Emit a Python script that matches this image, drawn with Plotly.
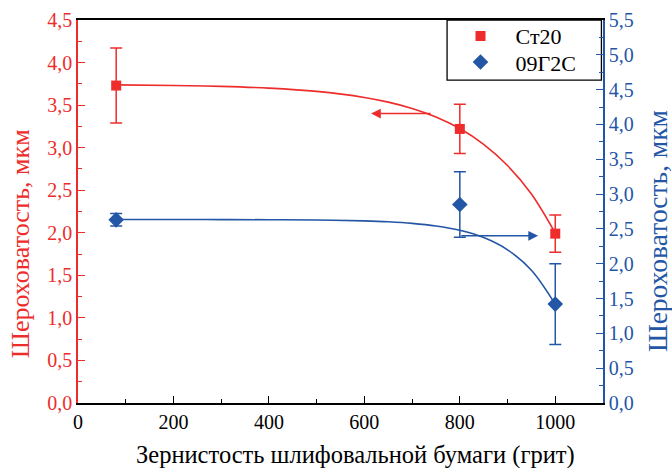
import plotly.graph_objects as go

# ---- data ----
grit = [80, 800, 1000]
st20 = [3.73, 3.22, 1.99]
st20_err = [0.44, 0.29, 0.22]
g09 = [2.63, 2.85, 1.42]
g09_err = [0.09, 0.47, 0.58]

# fitted curves
fit_x = [80, 200, 300, 400, 500, 600, 650, 700, 750, 800, 850, 900, 950, 1000]
fit_st20 = [3.738, 3.731, 3.72, 3.699, 3.661, 3.59, 3.535, 3.461, 3.361, 3.225, 3.04, 2.79, 2.455, 1.995]
fit_g09 = [2.635, 2.635, 2.634, 2.632, 2.628, 2.615, 2.602, 2.58, 2.542, 2.48, 2.376, 2.20, 1.907, 1.417]

x_title = "Зернистость шлифовальной бумаги (грит)"
y_title = "Шероховатость, мкм"

RED = "#ee2c2c"
BLUE = "#2456a6"
FONT = "Liberation Serif"

fig = go.Figure()
fig.add_trace(go.Scatter(x=fit_x, y=fit_st20, mode="lines", line=dict(color=RED, width=1.6, shape="spline"),
                         showlegend=False, hoverinfo="skip"))
fig.add_trace(go.Scatter(x=fit_x, y=fit_g09, mode="lines", line=dict(color=BLUE, width=1.6, shape="spline"),
                         showlegend=False, hoverinfo="skip", yaxis="y2"))
fig.add_trace(go.Scatter(x=grit, y=st20, mode="markers", name="Ст20", legend="legend",
                         marker=dict(symbol="square", size=10, color=RED),
                         error_y=dict(type="data", array=st20_err, color=RED, thickness=1.5, width=6)))
fig.add_trace(go.Scatter(x=grit, y=g09, mode="markers", name="09Г2С", yaxis="y2", legend="legend2",
                         marker=dict(symbol="diamond", size=12, color=BLUE),
                         error_y=dict(type="data", array=g09_err, color=BLUE, thickness=1.5, width=6)))

fig.add_annotation(x=614, y=3.40, ax=742, ay=3.40, xref="x", yref="y", axref="x", ayref="y",
                   showarrow=True, arrowhead=2, arrowsize=1.3, arrowwidth=1.5, arrowcolor=RED, text="")
fig.add_annotation(x=964, y=2.40, ax=800, ay=2.40, xref="x", yref="y2", axref="x", ayref="y2",
                   showarrow=True, arrowhead=2, arrowsize=1.3, arrowwidth=1.5, arrowcolor=BLUE, text="")

# axis titles
fig.add_annotation(text=y_title, xref="paper", yref="paper", x=-0.110, y=0.415, textangle=-90,
                   xanchor="center", yanchor="middle", showarrow=False,
                   font=dict(family=FONT, size=26, color=RED))
fig.add_annotation(text=y_title, xref="paper", yref="paper", x=1.103, y=0.449, textangle=-90,
                   xanchor="center", yanchor="middle", showarrow=False,
                   font=dict(family=FONT, size=27.5, color=BLUE))
fig.add_annotation(text=x_title, xref="paper", yref="paper", x=0.529, y=-0.136,
                   xanchor="center", yanchor="middle", showarrow=False,
                   font=dict(family=FONT, size=24.5, color="black"))

# legend frame
fig.add_shape(type="rect", xref="paper", yref="paper", x0=0.703, x1=0.997, y0=0.843, y1=1.0,
              line=dict(color="black", width=1.3), fillcolor="white", layer="below")

leg_common = dict(xanchor="left", yanchor="middle", borderwidth=0, bgcolor="rgba(0,0,0,0)",
                  font=dict(family=FONT, size=22, color="black"), itemwidth=60)

fig.update_layout(
    width=672, height=468,
    margin=dict(l=78, r=69, t=20, b=65, autoexpand=False),
    paper_bgcolor="white", plot_bgcolor="white",
    separators=", ",
    font=dict(family=FONT, size=19, color="black"),
    showlegend=True,
    legend=dict(x=0.700, y=0.958, **leg_common),
    legend2=dict(x=0.700, y=0.890, **leg_common),
    xaxis=dict(range=[0, 1100], dtick=200, tick0=0, ticks="inside", ticklen=7, tickcolor="black",
               showline=True, linecolor="black", linewidth=1.5, mirror=True, showgrid=False, zeroline=False,
               automargin=False,
               minor=dict(ticks="inside", ticklen=4, dtick=100, tickcolor="black"),
               tickfont=dict(family=FONT, size=20, color="black")),
    yaxis=dict(range=[0, 4.5], dtick=0.5, tick0=0, tickformat=".1f", ticks="inside", ticklen=7, tickcolor=RED,
               showline=True, linecolor=RED, linewidth=1.5, showgrid=False, zeroline=False, automargin=False,
               minor=dict(ticks="inside", ticklen=4, dtick=0.25, tickcolor=RED),
               tickfont=dict(family=FONT, size=20, color=RED)),
    yaxis2=dict(range=[0, 5.5], dtick=0.5, tick0=0, tickformat=".1f", ticks="inside", ticklen=7, tickcolor=BLUE,
                overlaying="y", side="right", anchor="x", automargin=False,
                showline=True, linecolor=BLUE, linewidth=1.5, showgrid=False, zeroline=False,
                minor=dict(ticks="inside", ticklen=4, dtick=0.25, tickcolor=BLUE),
                tickfont=dict(family=FONT, size=20, color=BLUE)),
)

fig.write_html("out.html", config={"displayModeBar": False},
               post_script="document.body.style.margin='0';")
